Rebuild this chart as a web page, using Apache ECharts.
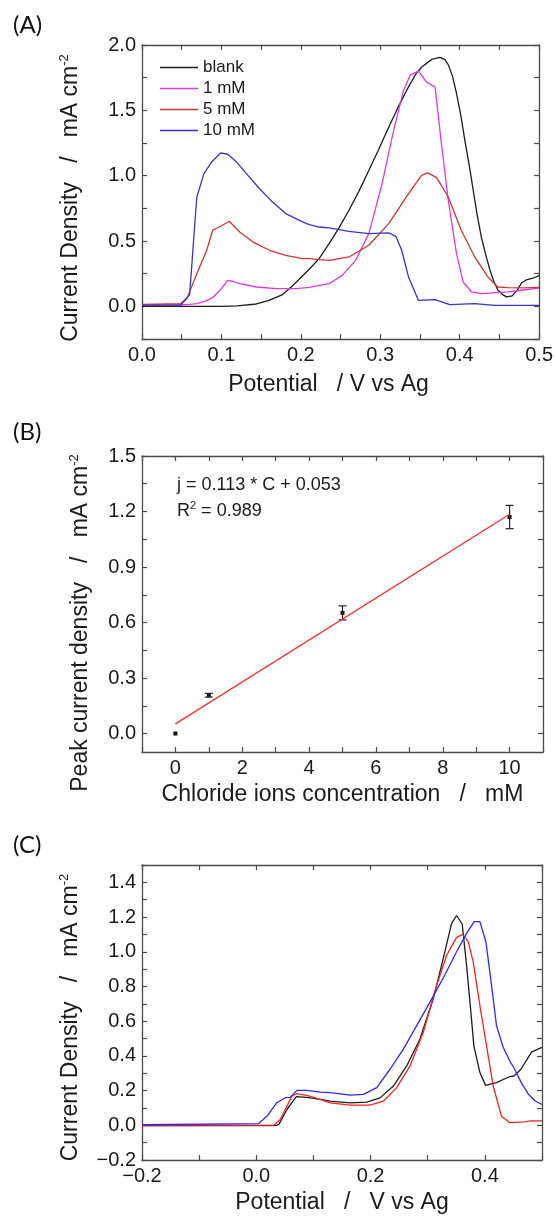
<!DOCTYPE html>
<html><head><meta charset="utf-8">
<script src="https://cdn.jsdelivr.net/npm/echarts@6/dist/echarts.min.js"></script>
<style>html,body{margin:0;padding:0;background:#fff}#c{width:556px;height:1218px}</style>
</head><body><div id="c"></div>
<script>
// ---------- Panel A : CV curves ----------
const aNames = ['blank', '1 mM', '5 mM', '10 mM'];
const aBlankX = [0, 0.05, 0.10, 0.12, 0.144, 0.16, 0.177, 0.19, 0.2, 0.21, 0.223, 0.2356, 0.248, 0.2606, 0.273, 0.2856, 0.298, 0.3106, 0.323, 0.3356, 0.345, 0.352, 0.3648, 0.375, 0.381, 0.3856, 0.391, 0.396, 0.4015, 0.4065, 0.412, 0.417, 0.422, 0.4273, 0.433, 0.438, 0.443, 0.448, 0.454, 0.459, 0.466, 0.472, 0.478, 0.485, 0.492, 0.5];
const aBlankY = [0, 0, 0, 0.003, 0.018, 0.045, 0.09, 0.16, 0.22, 0.28, 0.365, 0.48, 0.6, 0.735, 0.88, 1.04, 1.2, 1.37, 1.53, 1.68, 1.78, 1.83, 1.89, 1.905, 1.89, 1.85, 1.76, 1.63, 1.46, 1.27, 1.08, 0.89, 0.70, 0.53, 0.39, 0.28, 0.19, 0.125, 0.09, 0.072, 0.08, 0.12, 0.18, 0.205, 0.215, 0.235];
const a1X = [0, 0.05, 0.06, 0.069, 0.08, 0.0898, 0.0999, 0.108, 0.115, 0.123, 0.144, 0.169, 0.194, 0.2106, 0.223, 0.2356, 0.252, 0.269, 0.2856, 0.3023, 0.3169, 0.3294, 0.3377, 0.3481, 0.358, 0.369, 0.377, 0.3856, 0.396, 0.4044, 0.415, 0.4273, 0.461, 0.48, 0.5];
const a1Y = [0.01, 0.012, 0.015, 0.02, 0.04, 0.071, 0.135, 0.199, 0.19, 0.173, 0.148, 0.135, 0.135, 0.145, 0.16, 0.173, 0.237, 0.352, 0.557, 0.939, 1.348, 1.654, 1.769, 1.80, 1.718, 1.679, 1.246, 0.812, 0.403, 0.186, 0.11, 0.097, 0.11, 0.125, 0.14];
const a5X = [0, 0.048, 0.0565, 0.069, 0.0815, 0.089, 0.099, 0.1098, 0.123, 0.1398, 0.1606, 0.181, 0.202, 0.2106, 0.223, 0.2356, 0.2606, 0.2856, 0.3106, 0.3356, 0.352, 0.3598, 0.371, 0.3856, 0.402, 0.419, 0.4356, 0.448, 0.461, 0.48, 0.5];
const a5Y = [0.015, 0.02, 0.059, 0.25, 0.429, 0.582, 0.613, 0.651, 0.569, 0.492, 0.429, 0.39, 0.365, 0.365, 0.357, 0.352, 0.378, 0.467, 0.633, 0.863, 1.003, 1.021, 0.985, 0.837, 0.582, 0.378, 0.224, 0.148, 0.143, 0.142, 0.145];
const a10X = [0, 0.049, 0.06, 0.069, 0.078, 0.0877, 0.099, 0.108, 0.119, 0.1315, 0.148, 0.165, 0.181, 0.202, 0.2106, 0.223, 0.2356, 0.2606, 0.2856, 0.3106, 0.3197, 0.327, 0.3356, 0.348, 0.369, 0.3877, 0.419, 0.444, 0.5];
const a10Y = [0.01, 0.01, 0.09, 0.837, 1.016, 1.105, 1.174, 1.164, 1.105, 1.016, 0.90, 0.794, 0.71, 0.646, 0.625, 0.607, 0.60, 0.574, 0.557, 0.562, 0.536, 0.429, 0.224, 0.046, 0.051, 0.013, 0.02, 0.008, 0.008];
const aXTicks = [0, 0.05, 0.1, 0.15, 0.2, 0.25, 0.3, 0.35, 0.4, 0.45, 0.5];
const aXLabels = [0, 0.1, 0.2, 0.3, 0.4, 0.5];
const aYTicks = [-0.25, 0, 0.25, 0.5, 0.75, 1.0, 1.25, 1.5, 1.75, 2.0];
const aYLabels = [0, 0.5, 1.0, 1.5, 2.0];

// ---------- Panel B : calibration ----------
const bConc = [0, 1, 5, 10];
const bPeak = [0.0, 0.207, 0.652, 1.17];
const bErr = [0.0, 0.01, 0.038, 0.063];
const bFitX = [0, 10];
const bFitY = [0.052, 1.185];
const bXTicks = [-1, 0, 1, 2, 3, 4, 5, 6, 7, 8, 9, 10, 11];
const bXLabels = [0, 2, 4, 6, 8, 10];
const bYTicks = [0, 0.15, 0.3, 0.45, 0.6, 0.75, 0.9, 1.05, 1.2, 1.35, 1.5];
const bYLabels = [0, 0.3, 0.6, 0.9, 1.2, 1.5];
const bEquation = 'j = 0.113 * C + 0.053';
const bR2 = '0.989';

// ---------- Panel C : CV curves ----------
const cBlackX = [-0.2, 0.036, 0.0396, 0.0536, 0.07, 0.0885, 0.1118, 0.1293, 0.1642, 0.1933, 0.2166, 0.2399, 0.2632, 0.2865, 0.3097, 0.3272, 0.3418, 0.3505, 0.3604, 0.368, 0.375, 0.3808, 0.3913, 0.4012, 0.4204, 0.4437, 0.451, 0.463, 0.482, 0.5];
const cBlackY = [0, 0, 0.005, 0.091, 0.165, 0.161, 0.149, 0.139, 0.129, 0.133, 0.158, 0.226, 0.342, 0.497, 0.729, 0.962, 1.164, 1.209, 1.16, 0.922, 0.671, 0.458, 0.304, 0.23, 0.246, 0.281, 0.284, 0.323, 0.423, 0.449];
const cRedX = [-0.2, 0.03, 0.0419, 0.0536, 0.0623, 0.07, 0.0885, 0.1118, 0.1293, 0.1642, 0.1991, 0.2224, 0.2457, 0.269, 0.2923, 0.3156, 0.3331, 0.3505, 0.361, 0.3709, 0.3796, 0.3913, 0.403, 0.4146, 0.4291, 0.4437, 0.47, 0.48, 0.5];
const cRedY = [-0.003, -0.002, 0.033, 0.11, 0.168, 0.182, 0.172, 0.149, 0.129, 0.116, 0.116, 0.139, 0.217, 0.342, 0.536, 0.806, 0.98, 1.083, 1.1, 1.058, 0.942, 0.69, 0.458, 0.226, 0.052, 0.015, 0.02, 0.025, 0.025];
const cBlueX = [-0.2, 0.004, 0.0186, 0.036, 0.0507, 0.0594, 0.0711, 0.0885, 0.1118, 0.1293, 0.1642, 0.1875, 0.2108, 0.2341, 0.2574, 0.2807, 0.3039, 0.3272, 0.3505, 0.368, 0.3814, 0.3913, 0.4018, 0.4117, 0.4204, 0.432, 0.4437, 0.451, 0.463, 0.476, 0.488, 0.5];
const cBlueY = [0.003, 0.01, 0.052, 0.13, 0.159, 0.161, 0.201, 0.201, 0.191, 0.188, 0.174, 0.178, 0.217, 0.323, 0.439, 0.574, 0.71, 0.849, 1.0, 1.106, 1.174, 1.174, 1.058, 0.806, 0.574, 0.45, 0.37, 0.33, 0.25, 0.18, 0.14, 0.12];
const cXTicks = [-0.2, -0.1, 0, 0.1, 0.2, 0.3, 0.4, 0.5];
const cXLabels = [-0.2, 0, 0.2, 0.4];
const cYTicks = [-0.2, -0.1, 0, 0.1, 0.2, 0.3, 0.4, 0.5, 0.6, 0.7, 0.8, 0.9, 1.0, 1.1, 1.2, 1.3, 1.4, 1.5];
const cYLabels = [-0.2, 0, 0.2, 0.4, 0.6, 0.8, 1.0, 1.2, 1.4];

// ---------- styling ----------
const FONT = '"Liberation Sans", Arial, sans-serif';
const TXT = '#1a1a1a';
const AX = '#4a4a4a';
const pairs = (xs, ys) => xs.map((x, i) => [x, ys[i]]);
const f1 = v => { const s = Math.abs(v).toFixed(1); return (v < -1e-9 ? '\u2212' : '') + s; };
const f0 = v => String(Math.round(v));

function xAxes(grid, min, max, ticks, labels, fmt, name, gap, pad) {
  const common = {
    type: 'value', gridIndex: grid, min: min, max: max,
    axisLine: { show: true, onZero: false, lineStyle: { color: AX, width: 1.3 } },
    axisTick: { show: true, inside: true, length: 5, customValues: ticks, lineStyle: { color: AX, width: 1.2 } },
    splitLine: { show: false }, minorTick: { show: false }
  };
  return [
    Object.assign({}, common, {
      position: 'bottom',
      axisLabel: { show: true, customValues: labels, formatter: fmt, margin: 6, fontSize: 20, color: TXT, fontFamily: FONT },
      name: name, nameLocation: 'middle', nameGap: gap,
      nameTextStyle: { fontSize: 23, color: TXT, fontFamily: FONT, padding: pad }
    }),
    Object.assign({}, common, { position: 'top', axisLabel: { show: false } })
  ];
}
function yAxes(grid, min, max, ticks, labels, fmt, name, gap, pad) {
  const common = {
    type: 'value', gridIndex: grid, min: min, max: max,
    axisLine: { show: true, onZero: false, lineStyle: { color: AX, width: 1.3 } },
    axisTick: { show: true, inside: true, length: 5, customValues: ticks, lineStyle: { color: AX, width: 1.2 } },
    splitLine: { show: false }, minorTick: { show: false }
  };
  return [
    Object.assign({}, common, {
      position: 'left',
      axisLabel: { show: true, customValues: labels, formatter: fmt, margin: 6, fontSize: 20, color: TXT, fontFamily: FONT },
      name: '{t|' + name + '}{s|-2}', nameLocation: 'middle', nameGap: gap, nameRotate: 90,
      nameTextStyle: {
        color: TXT, fontFamily: FONT, padding: pad,
        rich: {
          t: { fontSize: 23, lineHeight: 26, color: TXT, fontFamily: FONT },
          s: { fontSize: 13, lineHeight: 13, verticalAlign: 'top', color: TXT, fontFamily: FONT }
        }
      }
    }),
    Object.assign({}, common, { position: 'right', axisLabel: { show: false } })
  ];
}

const lineSeries = (name, xs, ys, color, xi, yi) => ({
  type: 'line', name: name, xAxisIndex: xi, yAxisIndex: yi,
  data: pairs(xs, ys), symbol: 'none', showSymbol: false, smooth: false,
  lineStyle: { color: color, width: 1.3 }, itemStyle: { color: color },
  animation: false, silent: true
});

const chart = echarts.init(document.getElementById('c'), null, { renderer: 'canvas' });
const option = {
  backgroundColor: '#fff',
  animation: false,
  grid: [
    { left: 142, top: 45, width: 400, height: 294 },
    { left: 142, top: 456, width: 401, height: 296 },
    { left: 142, top: 865, width: 400, height: 295 }
  ],
  xAxis: [].concat(
    xAxes(0, 0, 0.5, aXTicks, aXLabels, f1, 'Potential   / V vs Ag', 34, [0, 24, 0, 0]),
    xAxes(1, -1, 11, bXTicks, bXLabels, f0, 'Chloride ions concentration   /   mM', 31, 0),
    xAxes(2, -0.2, 0.5, cXTicks, cXLabels, f1, 'Potential   /   V vs Ag', 31, 0)
  ),
  yAxis: [].concat(
    yAxes(0, -0.25, 2.0, aYTicks, aYLabels, f1, 'Current Density   /   mA cm', 58, [0, 12, 0, 0]),
    yAxes(1, -0.1, 1.5, bYTicks, bYLabels, f1, 'Peak current density   /   mA cm', 48, [0, 38, 0, 0]),
    yAxes(2, -0.2, 1.5, cYTicks, cYLabels, f1, 'Current Density   /   mA cm', 58, [0, 10, 0, 0])
  ),
  legend: {
    data: aNames.map(n => ({ name: n, icon: 'rect' })),
    orient: 'vertical', left: 155, top: 52, padding: 5,
    itemWidth: 38, itemHeight: 1.6, itemGap: 0,
    textStyle: { fontSize: 17, lineHeight: 21, color: TXT, fontFamily: FONT },
    selectedMode: false
  },
  graphic: [
    { type: 'text', left: 13, top: 13, style: { text: '(A)', fontSize: 24, fontFamily: 'Lato, "Open Sans", sans-serif', fill: '#111' } },
    { type: 'text', left: 13, top: 420, style: { text: '(B)', fontSize: 24, fontFamily: 'Lato, "Open Sans", sans-serif', fill: '#111' } },
    { type: 'text', left: 13, top: 833, style: { text: '(C)', fontSize: 24, fontFamily: 'Lato, "Open Sans", sans-serif', fill: '#111' } },
    { type: 'text', left: 177, top: 476, style: { text: bEquation, fontSize: 18, fontFamily: FONT, fill: TXT } },
    { type: 'text', left: 177, top: 500, style: {
        text: '{a|R}{s|2}{a| = ' + bR2 + '}',
        rich: { a: { fontSize: 18, lineHeight: 22, fontFamily: FONT, fill: TXT, color: TXT },
                s: { fontSize: 11, lineHeight: 11, verticalAlign: 'top', fontFamily: FONT, fill: TXT, color: TXT } } } }
  ],
  series: [
    lineSeries('blank', aBlankX, aBlankY, '#1c1c1c', 0, 0),
    lineSeries('1 mM', a1X, a1Y, '#e038e6', 0, 0),
    lineSeries('5 mM', a5X, a5Y, '#d23434', 0, 0),
    lineSeries('10 mM', a10X, a10Y, '#3535c8', 0, 0),
    {
      type: 'line', name: 'fit', xAxisIndex: 2, yAxisIndex: 2, data: pairs(bFitX, bFitY),
      symbol: 'none', lineStyle: { color: '#ff2a2a', width: 1.2 }, silent: true
    },
    {
      type: 'custom', name: 'err', xAxisIndex: 2, yAxisIndex: 2, silent: true,
      data: bConc.map((c, i) => [c, bPeak[i], bErr[i]]),
      renderItem: function (params, api) {
        const x = api.value(0), y = api.value(1), e = api.value(2);
        const p = api.coord([x, y]);
        const hi = api.coord([x, y + e]);
        const lo = api.coord([x, y - e]);
        const st = { stroke: '#222', lineWidth: 1.2 };
        const children = [
          { type: 'rect', shape: { x: p[0] - 2, y: p[1] - 2, width: 4, height: 4 }, style: { fill: '#111' } }
        ];
        if (e > 0) {
          children.push(
            { type: 'line', shape: { x1: p[0], y1: hi[1], x2: p[0], y2: lo[1] }, style: st },
            { type: 'line', shape: { x1: p[0] - 4, y1: hi[1], x2: p[0] + 4, y2: hi[1] }, style: st },
            { type: 'line', shape: { x1: p[0] - 4, y1: lo[1], x2: p[0] + 4, y2: lo[1] }, style: st }
          );
        }
        return { type: 'group', children: children };
      }
    },
    lineSeries('C blank', cBlackX, cBlackY, '#1c1c1c', 4, 4),
    lineSeries('C red', cRedX, cRedY, '#ff2020', 4, 4),
    lineSeries('C blue', cBlueX, cBlueY, '#2a2aff', 4, 4)
  ]
};
chart.setOption(option);
</script>
</body></html>
